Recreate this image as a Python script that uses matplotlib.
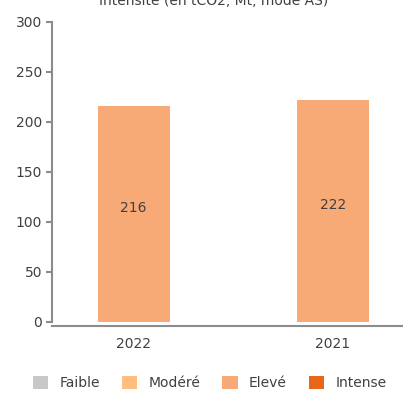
import matplotlib
matplotlib.use("Agg")
import matplotlib.pyplot as plt
from matplotlib.patches import Patch

# Données
annees = ["2022", "2021"]
valeurs = [216, 222]
niveaux = ["Faible", "Modéré", "Elevé", "Intense"]
couleurs_niveaux = ["#C8C8C8", "#FFBE80", "#F7A976", "#E8661A"]

gris_texte = "#404040"
gris_axe = "#8C8C8C"

plt.rcParams["font.family"] = ["DejaVu Sans"]

fig = plt.figure(figsize=(4.03, 3.96), dpi=100)
ax = fig.add_axes([0.129, 0.187, 0.92, 0.758])

x = range(len(annees))
barres = ax.bar(x, valeurs, width=0.36, color=couleurs_niveaux[2], zorder=2)

for b, v in zip(barres, valeurs):
    ax.annotate(str(v), (b.get_x() + b.get_width() / 2, v / 2),
                xytext=(0, 4), textcoords="offset points",
                ha="center", va="center", fontsize=10, color=gris_texte)

ax.set_xlim(-0.41, 1.45)
ax.set_ylim(0, 300)
ax.set_yticks(range(0, 301, 50))
ax.set_xticks(list(x))
ax.set_xticklabels(annees)

for s in ["top", "right"]:
    ax.spines[s].set_visible(False)
ax.spines["left"].set_color(gris_axe)
ax.spines["left"].set_linewidth(1.5)
ax.spines["bottom"].set_color(gris_axe)
ax.spines["bottom"].set_linewidth(1.5)
ax.spines["bottom"].set_position(("outward", 3))

ax.tick_params(axis="y", colors=gris_axe, labelcolor=gris_texte, labelsize=10,
               length=4, width=1.5, pad=3)
ax.tick_params(axis="x", length=0, labelcolor=gris_texte, labelsize=10, pad=8)

fig.text(0.53, 0.997, "Intensité (en tCO2, Mt, mode AS)", ha="center",
         va="center", fontsize=10, color=gris_texte)

poignees = [Patch(facecolor=c, edgecolor="none") for c in couleurs_niveaux]
fig.legend(poignees, niveaux, loc="center", bbox_to_anchor=(0.52, 0.033),
           ncol=4, frameon=False, fontsize=10, handlelength=1.1,
           handleheight=1.1, handletextpad=0.8, columnspacing=1.6,
           labelcolor=gris_texte)

fig.savefig("out.png", dpi=100)
